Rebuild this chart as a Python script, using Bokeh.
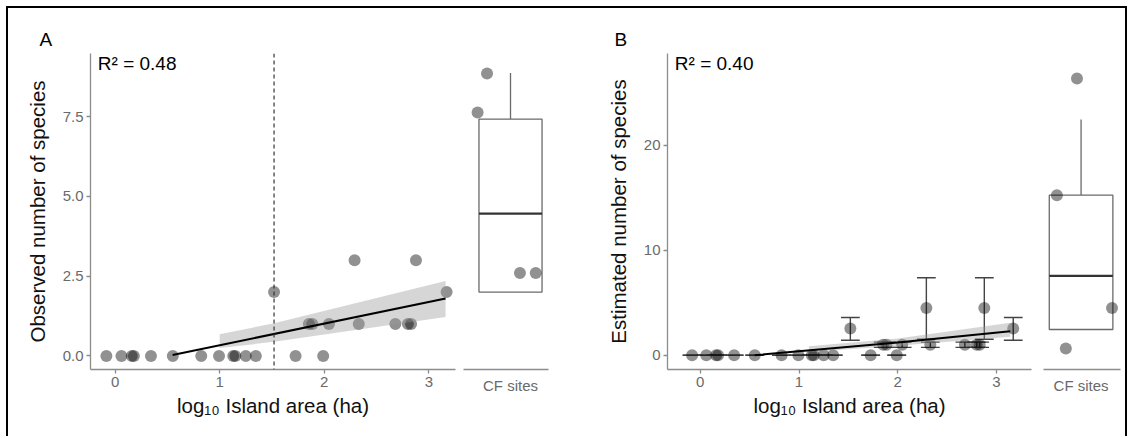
from bokeh.plotting import figure
from bokeh.layouts import row
from bokeh.models import (ColumnDataSource, FixedTicker, Span, Label,
                          NumeralTickFormatter)
from bokeh.embed import file_html
from bokeh.resources import INLINE

# ---------------- data ----------------
log_area = [-0.083, 0.061, 0.16, 0.18, 0.343, 0.552, 0.824, 0.994, 1.13, 1.15,
            1.25, 1.346, 1.52, 1.726, 1.853, 1.886, 1.99, 2.045, 2.29, 2.33,
            2.68, 2.80, 2.83, 2.877, 3.17]
observed = [0, 0, 0, 0, 0, 0, 0, 0, 0, 0, 0, 0, 2, 0, 1, 1, 0, 1, 3, 1, 1, 1, 1, 3, 2]
estimated = [0, 0, 0, 0, 0, 0, 0, 0, 0, 0, 0, 0, 2.54, 0, 1, 1, 0, 1, 4.5, 1, 1, 1, 1, 4.5, 2.54]
est_lower = [0, 0, 0, 0, 0, 0, 0, 0, 0, 0, 0, 0, 1.43, 0, 0.75, 0.75, 0, 0.75, 1.52, 0.75, 0.75, 0.75, 0.75, 1.52, 1.43]
est_upper = [0, 0, 0, 0, 0, 0, 0, 0, 0, 0, 0, 0, 3.59, 0, 1.25, 1.25, 0, 1.25, 7.38, 1.25, 1.25, 1.25, 1.25, 7.38, 3.59]

# fitted lines and confidence bands
fitA_x = [0.55, 3.16]
fitA_y = [0.03, 1.80]
bandA_x = [1.0, 1.52, 3.16]
bandA_lo = [0.25, 0.44, 1.22]
bandA_hi = [0.68, 1.02, 2.35]
fitB_x = [0.55, 2.0, 3.14]
fitB_y = [0.0, 1.21, 2.29]
bandB_x = [1.1, 2.0, 3.14]
bandB_lo = [0.31, 0.9, 1.75]
bandB_hi = [0.86, 1.6, 3.1]
threshold = 1.52

# CF sites (continuous forest) boxplots: [lower whisker, q1, median, q3, upper whisker]
cfA_stats = [2.0, 2.0, 4.46, 7.42, 8.87]
cfA_pts_x = [0.277, 0.166, 0.664, 0.85]
cfA_pts_y = [8.85, 7.63, 2.60, 2.60]
cfB_stats = [2.45, 2.45, 7.55, 15.24, 22.45]
cfB_pts_x = [0.435, 0.174, 0.89, 0.29]
cfB_pts_y = [26.35, 15.24, 4.5, 0.64]
cfA_center, cfA_half = 0.553, 0.371
cfB_center, cfB_half = 0.488, 0.413

x_ticks = [0, 1, 2, 3]
yA_ticks = [0, 2.5, 5, 7.5]
yB_ticks = [0, 10, 20]
r2_A = "R\u00b2 = 0.48"
r2_B = "R\u00b2 = 0.40"
xlab = "log\u2081\u2080 Island area (ha)"
ylabA = "Observed number of species"
ylabB = "Estimated number of species"
cat_label = "CF sites"

FONT = "Liberation Sans"
AX_COL = "#8c8c8c"
TICK_TXT = "#6a6a6a"
H = 428
TOP = 45
FRAME_H = 316
BOT = H - TOP - FRAME_H


def style_axis(ax):
    ax.axis_line_color = AX_COL
    ax.axis_line_width = 1.3
    ax.major_tick_line_color = AX_COL
    ax.major_tick_line_width = 1.3
    ax.major_tick_out = 4
    ax.major_tick_in = 0
    ax.minor_tick_line_color = None
    ax.major_label_text_font = FONT
    ax.major_label_text_font_size = "15px"
    ax.major_label_text_color = TICK_TXT
    ax.major_label_standoff = 3
    ax.axis_label_text_font = FONT
    ax.axis_label_text_font_size = "20.5px"
    ax.axis_label_text_font_style = "normal"
    ax.axis_label_text_color = "#111111"


def base(width, left, right, xr, yr, yaxis=True):
    p = figure(width=width, height=H, x_range=xr, y_range=yr,
               output_backend="svg", toolbar_location=None,
               y_axis_location="left" if yaxis else None,
               min_border_left=left, min_border_right=right,
               min_border_top=TOP, min_border_bottom=BOT)
    p.xgrid.visible = False
    p.ygrid.visible = False
    p.outline_line_color = None
    p.background_fill_color = "white"
    p.border_fill_color = "white"
    for ax in p.axis:
        style_axis(ax)
    return p


def scatter_pts(p, xs, ys):
    p.scatter(xs, ys, size=12, fill_color="black", fill_alpha=0.43,
              line_color=None)


def main_panel(width, left, right, xr, yr, yticks, ylab, r2, r2x, r2y, letter, off):
    p = base(width, left, right, xr, yr)
    p.title.text = letter
    p.title.align = "left"
    p.title.offset = off
    p.title.standoff = 7
    p.title.text_font = FONT
    p.title.text_font_size = "19px"
    p.title.text_font_style = "normal"
    p.title.text_color = "black"
    p.xaxis.ticker = FixedTicker(ticks=x_ticks)
    p.yaxis.ticker = FixedTicker(ticks=yticks)
    p.xaxis.axis_label = xlab
    p.yaxis.axis_label = ylab
    p.xaxis.axis_label_standoff = 4
    p.yaxis.axis_label_standoff = 11
    p.add_layout(Label(x=r2x, y=r2y, text=r2, text_font=FONT,
                       text_font_size="19px", text_color="black",
                       text_align="left", text_baseline="middle"))
    return p


def box_panel(width, left, right, yr, stats, center, half, px, py):
    p = base(width, left, right, (0, 1), yr, yaxis=False)
    p.xaxis.ticker = FixedTicker(ticks=[center])
    p.xaxis.major_label_overrides = {center: cat_label}
    p.xaxis.major_tick_out = 0
    p.xaxis.major_label_standoff = 7
    lo, q1, med, q3, hi = stats
    p.segment(x0=[center, center], y0=[q3, lo], x1=[center, center], y1=[hi, q1],
              line_color="#6a6a6a", line_width=1.3)
    p.quad(left=[center - half], right=[center + half], bottom=[q1], top=[q3],
           fill_color="white", line_color="#6a6a6a", line_width=1.3)
    p.segment(x0=[center - half], x1=[center + half], y0=[med], y1=[med],
              line_color="#333333", line_width=2.2)
    scatter_pts(p, px, py)
    return p


# ---------------- panel A ----------------
pA = main_panel(451, 82, 4, (-0.235, 3.255), (-0.426, 9.48), yA_ticks, ylabA,
                r2_A, -0.165, 9.18, "A", -51)
pA.yaxis.formatter = NumeralTickFormatter(format="0.0")
pA.add_layout(Span(location=threshold, dimension="height", line_color="#333333",
                   line_width=1.2, line_dash="4 3"))
scatter_pts(pA, log_area, observed)
pA.varea(x=bandA_x, y1=bandA_lo, y2=bandA_hi, fill_color="#999999", fill_alpha=0.4)
pA.line(fitA_x, fitA_y, line_color="black", line_width=2)

pAb = box_panel(131, 4, 42, (-0.426, 9.48), cfA_stats, cfA_center, cfA_half,
                cfA_pts_x, cfA_pts_y)

# ---------------- panel B ----------------
pB = main_panel(447, 77, 6, (-0.332, 3.355), (-1.36, 28.73), yB_ticks, ylabB,
                r2_B, -0.258, 27.8, "B", -53)
cap = 0.095
srcB = ColumnDataSource(dict(x=log_area, y=estimated, lo=est_lower, hi=est_upper,
                             cl=[v - cap for v in log_area],
                             cr=[v + cap for v in log_area]))
pB.segment(x0="x", x1="x", y0="lo", y1="hi", source=srcB, line_color="#444444",
           line_width=1.4)
pB.segment(x0="cl", x1="cr", y0="lo", y1="lo", source=srcB, line_color="#444444",
           line_width=1.4)
pB.segment(x0="cl", x1="cr", y0="hi", y1="hi", source=srcB, line_color="#444444",
           line_width=1.4)
scatter_pts(pB, log_area, estimated)
pB.varea(x=bandB_x, y1=bandB_lo, y2=bandB_hi, fill_color="#999999", fill_alpha=0.4)
pB.line(fitB_x, fitB_y, line_color="black", line_width=2)

pBb = box_panel(88, 6, 5, (-1.36, 28.73), cfB_stats, cfB_center, cfB_half,
                cfB_pts_x, cfB_pts_y)

layout = row(pA, pAb, pB, pBb, spacing=0,
             styles={"margin-top": "6px", "margin-left": "6px",
                     "border-top": "2px solid black",
                     "border-left": "2px solid black",
                     "border-right": "2px solid black"})

with open("out.html", "w") as f:
    f.write(file_html(layout, INLINE, title="chart"))
